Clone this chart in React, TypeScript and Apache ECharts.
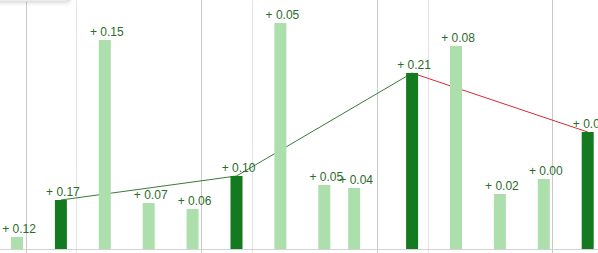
import React, { useEffect, useRef } from "react";
import * as echarts from "echarts";

// x position of each bar (in period slots), bar height, and the label change value
const positions = [0, 1, 2, 3, 4, 5, 6, 7, 7.68, 9, 10, 11, 12, 13];
const heights = [12, 49, 209, 46, 40, 73, 226, 64, 61, 176, 203, 55, 70, 117];
const changes = [0.12, 0.17, 0.15, 0.07, 0.06, 0.1, 0.05, 0.05, 0.04, 0.21, 0.08, 0.02, 0.0, 0.01];
const isSummary = [false, true, false, false, false, true, false, false, false, true, false, false, false, true];
const majorLines = [0.2, 4.2, 8.2, 12.2];
const minorLines = [1.36, 5.36, 9.36];

const DARK = "#147a1f";
const LIGHT = "#addfad";
const UP = "#3a7a3a";
const DOWN = "#d62a34";
const LABEL = "#2a6c2a";

export default function App() {
  const ref = useRef<HTMLDivElement>(null);
  useEffect(() => {
    if (!ref.current) return;
    const chart = echarts.init(ref.current, undefined, { renderer: "svg" });

    const barData = positions.map((x, i) => ({
      value: [x, heights[i]],
      itemStyle: { color: isSummary[i] ? DARK : LIGHT },
    }));

    const summaryPts = positions
      .map((x, i) => ({ x, y: heights[i], s: isSummary[i] }))
      .filter((p) => p.s);
    const segSeries: any[] = [];
    for (let k = 0; k < summaryPts.length - 1; k++) {
      const a = summaryPts[k];
      const b = summaryPts[k + 1];
      segSeries.push({
        type: "line",
        data: [
          [a.x, a.y],
          [b.x, b.y],
        ],
        symbol: "none",
        z: 2,
        lineStyle: { color: b.y >= a.y ? UP : DOWN, width: 1 },
      });
    }

    const gridMarks = [
      ...majorLines.map((v) => ({ xAxis: v, lineStyle: { color: "#c9c9c9", width: 1, type: "solid" } })),
      ...minorLines.map((v) => ({ xAxis: v, lineStyle: { color: "#e4e4e4", width: 1, type: "solid" } })),
      { yAxis: -0.5, lineStyle: { color: "#d2d2d2", width: 1, type: "solid" } },
    ];

    chart.setOption({
      animation: false,
      grid: { left: 15.05, right: 26.45, top: 40, bottom: 0 },
      xAxis: {
        type: "value",
        min: -0.5,
        max: 14.5,
        axisLine: { show: false },
        axisTick: { show: false },
        axisLabel: { show: false },
        splitLine: { show: false },
      },
      yAxis: {
        type: "value",
        min: -11,
        max: 249,
        axisLine: { show: false },
        axisTick: { show: false },
        axisLabel: { show: false },
        splitLine: { show: false },
      },
      graphic: [
        {
          type: "rect",
          z: 100,
          shape: { x: 10, y: 9, width: 80, height: 32, r: 3 },
          style: {
            fill: "#ffffff",
            stroke: "#d6d6d6",
            lineWidth: 1,
            shadowBlur: 4,
            shadowOffsetY: 1,
            shadowColor: "rgba(0,0,0,0.18)",
          },
        },
      ],
      series: [
        {
          type: "line",
          data: [[0, -20]],
          symbol: "none",
          silent: true,
          z: 1,
          markLine: {
            silent: true,
            z: 1,
            symbol: ["none", "none"],
            label: { show: false },
            emphasis: { disabled: true },
            data: gridMarks,
          },
        },
        ...segSeries,
        {
          type: "bar",
          z: 3,
          barWidth: 12,
          data: barData,
          label: {
            show: true,
            position: "top",
            distance: 2,
            offset: [2, 0],
            color: LABEL,
            fontFamily: "Liberation Sans, Arial, sans-serif",
            fontSize: 12,
            formatter: (p: any) => "+ " + changes[p.dataIndex].toFixed(2),
          },
        },
      ],
    });
    return () => chart.dispose();
  }, []);

  return (
    <div
      style={{
        position: "fixed",
        left: 0,
        top: 0,
        width: 598,
        height: 253,
        overflow: "hidden",
        background: "#fff",
      }}
    >
      <div
        ref={ref}
        style={{ position: "absolute", left: -20, top: -40, width: 700, height: 300 }}
      />
    </div>
  );
}
